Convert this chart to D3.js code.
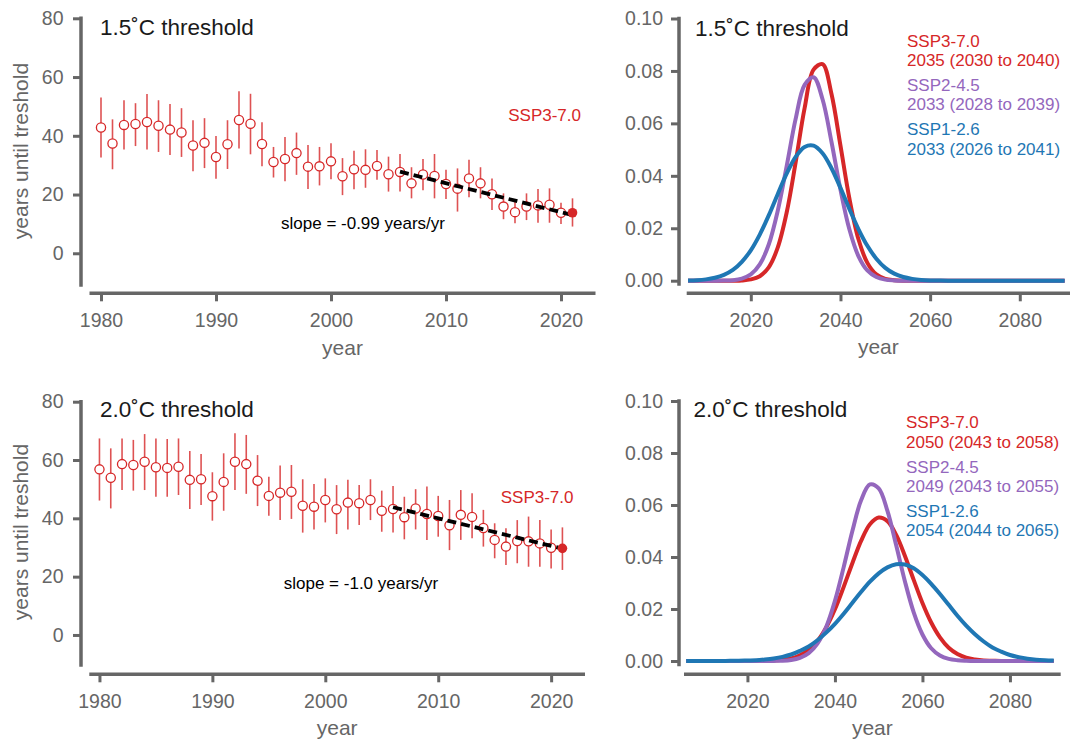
<!DOCTYPE html>
<html>
<head>
<meta charset="utf-8">
<script src="https://cdn.jsdelivr.net/npm/d3@7"></script>
<style>
    body { margin: 0; background: #ffffff; }
    svg { display: block; font-family: "Liberation Sans", Arial, Helvetica, sans-serif; }
</style>
</head>
<body>
<div id="chart-container"></div>
<script>

// observed years
var years = [1980, 1981, 1982, 1983, 1984, 1985, 1986, 1987, 1988, 1989,
    1990, 1991, 1992, 1993, 1994, 1995, 1996, 1997, 1998, 1999,
    2000, 2001, 2002, 2003, 2004, 2005, 2006, 2007, 2008, 2009,
    2010, 2011, 2012, 2013, 2014, 2015, 2016, 2017, 2018, 2019,
    2020, 2021];

// 1.5C : years until threshold, with range
var mean15 = [42.8, 37.4, 43.7, 44.0, 44.7, 43.4, 42.1, 41.1, 36.7, 37.6,
    32.8, 37.1, 45.4, 44.1, 37.2, 31.1, 32.1, 34.1, 29.5, 29.6,
    31.3, 26.2, 28.6, 28.4, 29.7, 26.9, 27.7, 23.8, 26.8, 26.3,
    23.6, 22.0, 25.5, 23.8, 20.1, 15.9, 14.0, 15.9, 16.3, 16.5,
    13.8, 13.8];
var hi15 = [53.0, 45.6, 52.1, 51.1, 54.2, 52.1, 50.8, 49.4, 45.3, 46.0,
    39.9, 45.3, 55.2, 54.3, 44.6, 36.2, 39.6, 41.1, 36.9, 36.2,
    37.5, 32.4, 34.9, 35.4, 35.2, 32.9, 33.8, 29.3, 32.1, 33.8,
    28.4, 28.9, 31.8, 29.3, 25.5, 20.4, 18.4, 20.4, 21.9, 22.1,
    17.2, 18.7];
var lo15 = [32.6, 28.6, 35.3, 36.5, 35.3, 34.5, 33.5, 32.8, 27.9, 29.0,
    25.4, 28.7, 35.7, 33.7, 29.6, 25.8, 24.5, 26.7, 21.9, 23.1,
    25.2, 19.8, 21.8, 22.3, 25.0, 21.0, 21.0, 18.7, 21.5, 18.7,
    18.5, 14.2, 19.1, 18.7, 14.7, 11.6, 10.2, 11.3, 10.4, 10.4,
    10.0, 9.1];

// 2.0C : years until threshold, with range
var mean20 = [56.8, 53.9, 58.6, 58.3, 59.4, 57.5, 57.3, 57.7, 53.2, 53.4,
    47.6, 52.5, 59.4, 58.6, 52.9, 47.7, 48.8, 49.1, 44.3, 44.0,
    46.3, 43.1, 45.4, 45.2, 46.3, 42.6, 43.2, 40.4, 43.4, 41.5,
    40.8, 37.6, 41.2, 40.5, 36.7, 32.6, 30.3, 32.2, 32.1, 31.4,
    29.9, 29.7];
var hi20 = [67.4, 64.0, 67.4, 66.9, 68.9, 67.4, 67.2, 67.4, 63.1, 62.1,
    55.8, 62.3, 69.2, 68.6, 61.7, 54.3, 58.1, 58.3, 53.4, 51.8,
    53.7, 51.4, 53.2, 51.4, 53.4, 49.5, 51.1, 47.4, 50.0, 50.9,
    47.7, 46.3, 49.7, 48.6, 42.9, 38.3, 36.6, 39.4, 40.6, 39.4,
    36.2, 36.9];
var lo20 = [46.1, 43.4, 49.7, 49.5, 49.7, 47.4, 47.4, 48.0, 43.2, 44.6,
    39.2, 42.6, 49.7, 48.4, 44.2, 40.9, 39.4, 39.8, 35.1, 36.2,
    38.6, 34.6, 36.2, 37.7, 39.4, 35.4, 35.1, 32.8, 36.2, 32.6,
    33.7, 29.1, 32.6, 33.2, 30.3, 26.3, 24.0, 24.6, 23.4, 23.4,
    22.8, 22.3];

// fitted trend (last 16 years)
var trendYears = [2006, 2021];
var trend15 = [27.8, 13.0];
var trend20 = [43.8, 29.6];

// density of threshold crossing year
var densYears = [2006, 2008, 2010, 2012, 2014, 2016, 2018, 2020, 2022, 2024,
    2026, 2028, 2030, 2032, 2034, 2036, 2038, 2040, 2042, 2044,
    2046, 2048, 2050, 2052, 2054, 2056, 2058, 2060, 2062, 2064,
    2066, 2068, 2070, 2072, 2074, 2076, 2078, 2080, 2082, 2084,
    2086, 2088, 2090];

var dens15_ssp370 = [0, 0, 0, 0, 0, 0.00002, 0.0001, 0.0005, 0.0017, 0.0051,
    0.0126, 0.0260, 0.0451, 0.0658, 0.0805, 0.0826, 0.0712, 0.0515, 0.0313, 0.0159,
    0.0068, 0.0024, 0.0007, 0.0002, 0, 0, 0, 0, 0, 0,
    0, 0, 0, 0, 0, 0, 0, 0, 0, 0,
    0, 0, 0];
var dens15_ssp245 = [0, 0, 0, 0.00001, 0.00005, 0.0002, 0.0008, 0.0024, 0.0062, 0.0138,
    0.0266, 0.0437, 0.0617, 0.0747, 0.0776, 0.0692, 0.0529, 0.0347, 0.0195, 0.0094,
    0.0039, 0.0014, 0.0004, 0.0001, 0, 0, 0, 0, 0, 0,
    0, 0, 0, 0, 0, 0, 0, 0, 0, 0,
    0, 0, 0];
var dens15_ssp126 = [0.0001, 0.0002, 0.0005, 0.0011, 0.0022, 0.0041, 0.0072, 0.0116, 0.0176, 0.0249,
    0.0330, 0.0408, 0.0472, 0.0510, 0.0515, 0.0486, 0.0429, 0.0354, 0.0273, 0.0197,
    0.0133, 0.0084, 0.0049, 0.0027, 0.0014, 0.0007, 0.0003, 0.0001, 0.00005, 0,
    0, 0, 0, 0, 0, 0, 0, 0, 0, 0,
    0, 0, 0];

var dens20_ssp370 = [0, 0, 0, 0, 0, 0, 0, 0.00001, 0.00002, 0.00007,
    0.0002, 0.0005, 0.0010, 0.0022, 0.0043, 0.0077, 0.0129, 0.0199, 0.0285, 0.0377,
    0.0463, 0.0526, 0.0552, 0.0538, 0.0485, 0.0404, 0.0312, 0.0223, 0.0148, 0.0091,
    0.0051, 0.0027, 0.0013, 0.0006, 0.0002, 0.0001, 0, 0, 0, 0,
    0, 0, 0];
var dens20_ssp245 = [0, 0, 0, 0, 0, 0, 0, 0, 0, 0,
    0.00004, 0.0001, 0.0004, 0.0012, 0.0030, 0.0067, 0.0131, 0.0231, 0.0361, 0.0501,
    0.0619, 0.0679, 0.0664, 0.0577, 0.0445, 0.0306, 0.0187, 0.0102, 0.0049, 0.0021,
    0.0008, 0.0003, 0.0001, 0, 0, 0, 0, 0, 0, 0,
    0, 0, 0];
var dens20_ssp126 = [0, 0, 0.00001, 0.00002, 0.00003, 0.00005, 0.0001, 0.0002, 0.0003, 0.0006,
    0.0010, 0.0016, 0.0025, 0.0039, 0.0056, 0.0080, 0.0109, 0.0143, 0.0182, 0.0224,
    0.0266, 0.0305, 0.0337, 0.0360, 0.0372, 0.0371, 0.0357, 0.0331, 0.0297, 0.0258,
    0.0216, 0.0174, 0.0136, 0.0103, 0.0075, 0.0052, 0.0036, 0.0023, 0.0015, 0.0009,
    0.0005, 0.0003, 0.0002];

var scenarios = ["SSP3-7.0", "SSP2-4.5", "SSP1-2.6"];
var labels15 = ["2035 (2030 to 2040)", "2033 (2028 to 2039)", "2033 (2026 to 2041)"];
var labels20 = ["2050 (2043 to 2058)", "2049 (2043 to 2055)", "2054 (2044 to 2065)"];

var RED = "#d62728", PURPLE = "#9467bd", BLUE = "#1f77b4";
var AXIS = "#666666";
var scenarioColors = [RED, PURPLE, BLUE];

var svg = d3.select("#chart-container")
    .append("svg")
    .attr("width", 1070)
    .attr("height", 740);

svg.append("rect")
    .attr("width", 1070)
    .attr("height", 740)
    .attr("fill", "#ffffff");

var styleAxis = function (g) {
    g.select(".domain").remove();
    g.selectAll(".tick line")
        .attr("stroke", AXIS)
        .attr("stroke-width", 3);
    g.selectAll(".tick text")
        .attr("fill", AXIS)
        .style("font-size", "19.5px");
}

// capped axis lines + ticks, shared by both panel kinds
var drawAxes = function (g, x, y, opt) {
    g.append("line")
        .attr("x1", opt.yAxisX).attr("x2", opt.yAxisX)
        .attr("y1", y(opt.yDomain[1])).attr("y2", opt.yAxisBottom)
        .attr("stroke", AXIS)
        .attr("stroke-width", 3.5)
        .attr("stroke-linecap", "square");
    g.append("line")
        .attr("x1", opt.xRange[0]).attr("x2", opt.xRange[1])
        .attr("y1", opt.xAxisY).attr("y2", opt.xAxisY)
        .attr("stroke", AXIS)
        .attr("stroke-width", 3.5);

    g.append("g")
        .attr("transform", "translate(" + opt.yAxisX + ",0)")
        .call(d3.axisLeft(y)
            .tickValues(opt.yTicks)
            .tickFormat(opt.yFormat)
            .tickSize(8)
            .tickPadding(opt.yPad))
        .call(styleAxis);

    g.append("g")
        .attr("transform", "translate(0," + opt.xAxisY + ")")
        .call(d3.axisBottom(x)
            .tickValues(opt.xTicks)
            .tickFormat(d3.format("d"))
            .tickSize(8)
            .tickPadding(12))
        .call(styleAxis);

    g.append("text")
        .attr("x", (opt.xRange[0] + opt.xRange[1]) / 2)
        .attr("y", opt.xTitleY)
        .attr("text-anchor", "middle")
        .attr("fill", AXIS)
        .style("font-size", "21px")
        .text("year");

    g.append("text")
        .attr("x", opt.titleX)
        .attr("y", opt.titleY)
        .attr("fill", "#1a1a1a")
        .style("font-size", "22.5px")
        .text(opt.title);
}

var createScatterPanel = function (opt) {
    var g = svg.append("g");
    var x = d3.scaleLinear().domain(opt.xDomain).range(opt.xRange);
    var y = d3.scaleLinear().domain(opt.yDomain).range(opt.yRange);

    drawAxes(g, x, y, opt);

    g.append("text")
        .attr("transform", "translate(28," + opt.yTitleY + ") rotate(-90)")
        .attr("text-anchor", "middle")
        .attr("fill", AXIS)
        .style("font-size", "21px")
        .text("years until treshold");

    var pts = years.map(function (yr, i) {
        return { year: yr, mean: opt.mean[i], lo: opt.lo[i], hi: opt.hi[i] };
    });

    g.selectAll(".bar")
        .data(pts)
        .enter()
        .append("line")
        .attr("class", "bar")
        .attr("x1", function (d) { return x(d.year); })
        .attr("x2", function (d) { return x(d.year); })
        .attr("y1", function (d) { return y(d.lo); })
        .attr("y2", function (d) { return y(d.hi); })
        .attr("stroke", RED)
        .attr("stroke-opacity", 0.8)
        .attr("stroke-width", 1.6);

    g.selectAll(".pt")
        .data(pts.slice(0, -1))
        .enter()
        .append("circle")
        .attr("class", "pt")
        .attr("cx", function (d) { return x(d.year); })
        .attr("cy", function (d) { return y(d.mean); })
        .attr("r", 4.6)
        .attr("fill", "#ffffff")
        .attr("stroke", RED)
        .attr("stroke-width", 1.3);

    var trend = trendYears.map(function (yr, i) {
        return { year: yr, value: opt.trend[i] };
    });
    g.append("path")
        .datum(trend)
        .attr("d", d3.line()
            .x(function (d) { return x(d.year); })
            .y(function (d) { return y(d.value); }))
        .attr("fill", "none")
        .attr("stroke", "#000000")
        .attr("stroke-width", 3.8)
        .attr("stroke-dasharray", "9,5");

    var last = pts[pts.length - 1];
    g.append("circle")
        .attr("cx", x(last.year))
        .attr("cy", y(last.mean))
        .attr("r", 4.8)
        .attr("fill", RED);

    g.append("text")
        .attr("x", opt.labelX)
        .attr("y", opt.labelY)
        .attr("text-anchor", "end")
        .attr("fill", RED)
        .style("font-size", "17px")
        .text(scenarios[0]);

    g.append("text")
        .attr("x", opt.slopeX)
        .attr("y", opt.slopeY)
        .attr("text-anchor", "middle")
        .attr("fill", "#000000")
        .style("font-size", "17px")
        .text(opt.slopeText);
}

var createDensityPanel = function (opt) {
    var g = svg.append("g");
    var x = d3.scaleLinear().domain(opt.xDomain).range(opt.xRange);
    var y = d3.scaleLinear().domain(opt.yDomain).range(opt.yRange);

    drawAxes(g, x, y, opt);

    var line = d3.line()
        .x(function (d) { return x(d.year); })
        .y(function (d) { return y(d.value); })
        .curve(d3.curveCatmullRom);

    opt.series.forEach(function (vals, k) {
        var d = densYears.map(function (yr, i) {
            return { year: yr, value: vals[i] };
        });
        g.append("path")
            .datum(d)
            .attr("d", line)
            .attr("fill", "none")
            .attr("stroke", scenarioColors[k])
            .attr("stroke-width", 4)
            .attr("stroke-linejoin", "round");
    });

    scenarios.forEach(function (name, k) {
        var t = g.append("text")
            .attr("x", opt.legendX)
            .attr("y", opt.legendY + k * 44.3)
            .attr("fill", scenarioColors[k])
            .style("font-size", "17px");
        t.append("tspan")
            .attr("x", opt.legendX)
            .text(name);
        t.append("tspan")
            .attr("x", opt.legendX)
            .attr("dy", 19.4)
            .text(opt.labels[k]);
    });
}

createScatterPanel({
    title: "1.5˚C threshold", titleX: 100, titleY: 35,
    xDomain: [1979, 2023], xRange: [89.5, 595.5], xAxisY: 293.3, xTitleY: 355,
    yDomain: [-10.8, 80], yRange: [285, 18.3], yAxisX: 81, yAxisBottom: 285,
    xTicks: [1980, 1990, 2000, 2010, 2020], yTicks: [0, 20, 40, 60, 80],
    yFormat: d3.format("d"), yPad: 9.5, yTitleY: 151,
    mean: mean15, lo: lo15, hi: hi15, trend: trend15,
    labelX: 581, labelY: 121,
    slopeX: 363, slopeY: 229, slopeText: "slope = -0.99 years/yr"
});

createScatterPanel({
    title: "2.0˚C threshold", titleX: 100, titleY: 417,
    xDomain: [1979.1, 2023], xRange: [89.3, 585], xAxisY: 674.3, xTitleY: 735,
    yDomain: [-10.3, 80], yRange: [665, 401.7], yAxisX: 81, yAxisBottom: 665,
    xTicks: [1980, 1990, 2000, 2010, 2020], yTicks: [0, 20, 40, 60, 80],
    yFormat: d3.format("d"), yPad: 9.5, yTitleY: 532,
    mean: mean20, lo: lo20, hi: hi20, trend: trend20,
    labelX: 573.5, labelY: 502.7,
    slopeX: 361, slopeY: 588.7, slopeText: "slope = -1.0 years/yr"
});

createDensityPanel({
    title: "1.5˚C threshold", titleX: 695, titleY: 36,
    xDomain: [2005.7, 2091.2], xRange: [686.7, 1070], xAxisY: 293.3, xTitleY: 354,
    yDomain: [0, 0.1], yRange: [280.7, 18.5], yAxisX: 679, yAxisBottom: 284,
    xTicks: [2020, 2040, 2060, 2080], yTicks: [0, 0.02, 0.04, 0.06, 0.08, 0.1],
    yFormat: d3.format(".2f"), yPad: 8,
    series: [dens15_ssp370, dens15_ssp245, dens15_ssp126], labels: labels15,
    legendX: 907, legendY: 46.7
});

createDensityPanel({
    title: "2.0˚C threshold", titleX: 693.5, titleY: 417,
    xDomain: [2005.5, 2091.6], xRange: [684, 1060.7], xAxisY: 674.3, xTitleY: 735,
    yDomain: [0, 0.1], yRange: [661, 401], yAxisX: 679, yAxisBottom: 664.5,
    xTicks: [2020, 2040, 2060, 2080], yTicks: [0, 0.02, 0.04, 0.06, 0.08, 0.1],
    yFormat: d3.format(".2f"), yPad: 8,
    series: [dens20_ssp370, dens20_ssp245, dens20_ssp126], labels: labels20,
    legendX: 906, legendY: 428.3
});

</script>
</body>
</html>
